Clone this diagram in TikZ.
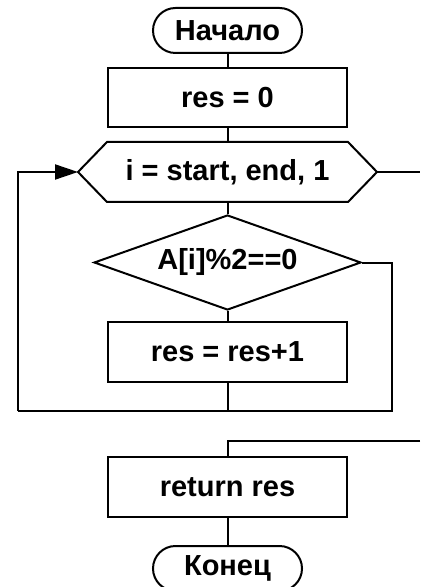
\documentclass[tikz,border=0pt]{standalone}
\usepackage{fontspec}
\setmainfont{Liberation Sans}
\usetikzlibrary{shapes.geometric,arrows.meta}

\begin{document}
\begin{tikzpicture}[x=0.5pt,y=-0.5pt,line width=1pt]
\tikzstyle{every node}=[font=\bfseries\fontsize{14.5}{17}\selectfont,inner sep=0pt];
\tikzstyle{term}=[draw,rectangle,rounded corners=11.25pt,minimum width=74.5pt,minimum height=22.5pt];
\tikzstyle{block}=[draw,rectangle,minimum width=119.5pt,minimum height=29.5pt];
\tikzstyle{cond}=[draw,diamond,aspect=2.81,minimum width=133.5pt,minimum height=47.5pt];
\useasboundingbox (0,0) rectangle (420,587);
\node[term] (begin) at (227.5,30.5) {Начало};
\node[block] (init) at (227.5,97.5) {res = 0};
\node[block,draw=none,minimum height=29pt] (loop) at (227.5,172) {i = start, end, 1};
\node[cond] (check) at (227.5,262.5) {A[i]\%2==0};
\node[block,minimum height=30pt] (inc) at (227.5,352) {res = res+1};
\node[block,minimum height=30pt] (ret) at (227.5,487) {return res};
\node[term] (end) at (227.5,568.5) {Конец};
\coordinate (loopl) at (78,172);
\coordinate (loopr) at (377,172);
\coordinate (join) at (227.5,411);
\coordinate (lb) at (18,411);
\coordinate (rb) at (392,411);
\coordinate (out) at (420,172);
\coordinate (in) at (420,441);
\draw (loop.north west) -- (loop.north east) -- (loopr) -- (loop.south east)
  -- (loop.south west) -- (loopl) -- cycle;
\draw (begin) -- (init);
\draw (init) -- (loop.north);
\draw (loop.south) -- (check);
\draw (check) -- (inc);
\draw (inc) -- (join);
\draw (check.east) -| (rb) -- (lb);
\draw[-{Triangle[length=11.5pt,width=7.5pt]}] (lb) |- (loopl);
\draw (loopr) -- (out);
\draw (in) -| (ret.north);
\draw (ret) -- (end);
\end{tikzpicture}
\end{document}
